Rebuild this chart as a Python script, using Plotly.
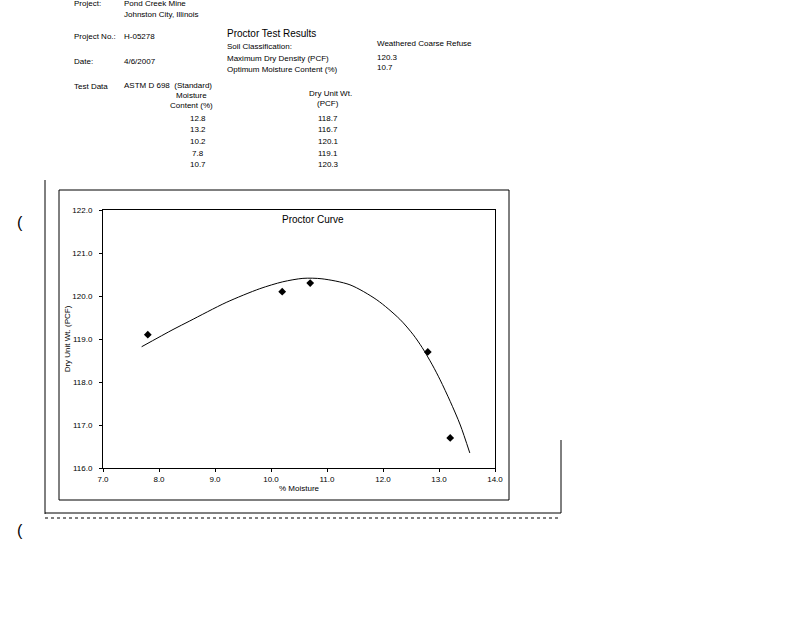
import plotly.graph_objects as go

# ---- data ----
moisture = [12.8, 13.2, 10.2, 7.8, 10.7]
dry_unit_wt = [118.7, 116.7, 120.1, 119.1, 120.3]

curve_x = [7.69, 8.25, 8.55, 9.20, 9.80, 10.21, 10.57, 10.91, 11.41, 11.89, 12.30, 12.54, 12.70, 12.88, 13.02, 13.20, 13.38, 13.55]
curve_y = [118.82, 119.22, 119.42, 119.85, 120.17, 120.33, 120.41, 120.40, 120.26, 119.91, 119.46, 119.10, 118.80, 118.40, 118.05, 117.55, 117.00, 116.35]

x_ticks = [7, 8, 9, 10, 11, 12, 13, 14]
y_ticks = [116, 117, 118, 119, 120, 121, 122]

header_left = [("Project:", 4), ("Project No.:", 37), ("Date:", 61), ("Test Data", 86)]
header_vals = [("Pond Creek Mine", 4), ("Johnston City, Illinois", 14), ("H-05278", 37), ("4/6/2007", 61), ("ASTM D 698  (Standard)", 85)]
results_labels = [("Soil Classification:", 46), ("Maximum Dry Density (PCF)", 58), ("Optimum Moisture Content (%)", 70)]
results_vals = [("Weathered Coarse Refuse", 43), ("120.3", 57), ("10.7", 68)]

# ---- layout geometry (plot area pixels) ----
L, R, T, B = 103, 495, 210, 468
W, H = 800, 618

def px(x):
    return (x - L) / (R - L)

def py(y):
    return (B - y) / (B - T)

FONT = "Liberation Sans, Arial, sans-serif"

fig = go.Figure()
fig.add_trace(go.Scatter(x=curve_x, y=curve_y, mode="lines", line=dict(color="black", width=1, shape="spline", smoothing=0.8),
                         hoverinfo="skip", showlegend=False))
fig.add_trace(go.Scatter(x=moisture, y=dry_unit_wt, mode="markers",
                         marker=dict(symbol="diamond", size=6, color="black"), showlegend=False))

ann = []
def text(t, x, y, size=8, anchor="left"):
    ann.append(dict(text=t, x=px(x), y=py(y), xref="paper", yref="paper", showarrow=False,
                    xanchor=anchor, yanchor="middle", font=dict(size=size, color="black", family=FONT)))

for t, y in header_left:
    text(t, 72, y)
for t, y in header_vals:
    text(t, 122, y)
text("Proctor Test Results", 225, 34, size=10)
for t, y in results_labels:
    text(t, 225, y)
for t, y in results_vals:
    text(t, 375, y)
text("Moisture", 191, 95, anchor="center")
text("Content (%)", 191, 106, anchor="center")
text("Dry Unit Wt.", 330, 93, anchor="center")
text("(PCF)", 328, 104, anchor="center")
row_y = [118, 129, 141, 153, 165]
for m, d, y in zip(moisture, dry_unit_wt, row_y):
    text(f"{m:.1f}", 198, y, anchor="center")
    text(f"{d:.1f}", 328, y, anchor="center")
text("Proctor Curve", 313, 219, size=10, anchor="center")
text("(", 20, 222, size=16, anchor="center")
text("(", 20, 530, size=16, anchor="center")

shapes = [
    # chart box
    dict(type="rect", xref="paper", yref="paper", x0=px(59), x1=px(509), y0=py(500), y1=py(190),
         line=dict(color="black", width=1)),
    # page edges
    dict(type="line", xref="paper", yref="paper", x0=px(45), x1=px(45), y0=py(180), y1=py(514),
         line=dict(color="black", width=1)),
    dict(type="line", xref="paper", yref="paper", x0=px(45), x1=px(561), y0=py(513), y1=py(513),
         line=dict(color="black", width=1)),
    dict(type="line", xref="paper", yref="paper", x0=px(561), x1=px(561), y0=py(440), y1=py(513),
         line=dict(color="black", width=1)),
    dict(type="line", xref="paper", yref="paper", x0=px(45), x1=px(561), y0=py(518), y1=py(518),
         line=dict(color="black", width=1, dash="dot")),
]

fig.update_layout(
    width=W, height=H,
    margin=dict(l=L, r=W - R, t=T, b=H - B, pad=0),
    paper_bgcolor="white", plot_bgcolor="white",
    font=dict(family=FONT, size=8, color="black"),
    annotations=ann, shapes=shapes,
    xaxis=dict(range=[7, 14], tickvals=x_ticks, ticktext=[f"{v:.1f}" for v in x_ticks],
               showgrid=False, zeroline=False, showline=True, linecolor="black", linewidth=1, mirror=True,
               ticks="outside", ticklen=3, tickcolor="black", tickfont=dict(size=8),
               title=dict(text="% Moisture", font=dict(size=8), standoff=2)),
    yaxis=dict(range=[116, 122], tickvals=y_ticks, ticktext=[f"{v:.1f}" for v in y_ticks],
               showgrid=False, zeroline=False, showline=True, linecolor="black", linewidth=1, mirror=True,
               ticks="outside", ticklen=3, tickcolor="black", tickfont=dict(size=8), ticklabelstandoff=5,
               title=dict(text="Dry Unit Wt. (PCF)", font=dict(size=8), standoff=0)),
)

fig.write_html("out.html", post_script="document.body.style.margin='0';", config={"displayModeBar": False})
